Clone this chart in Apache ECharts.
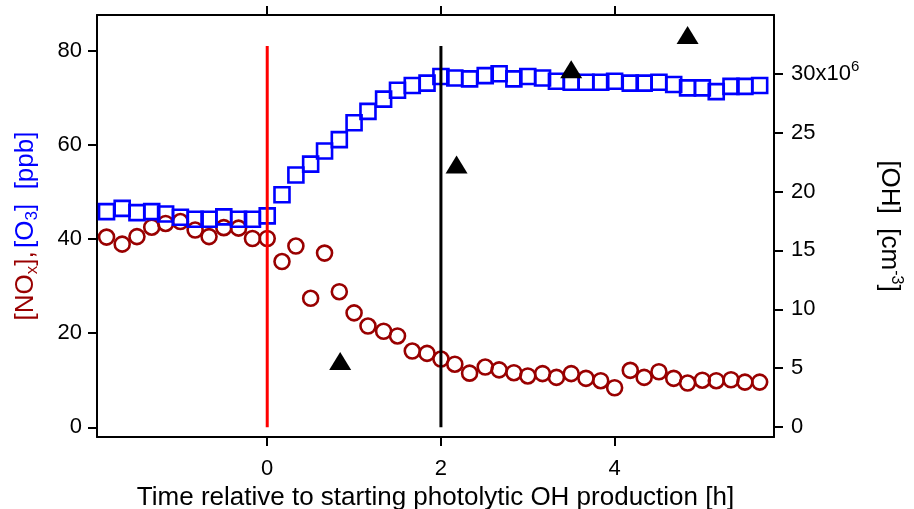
<!DOCTYPE html>
<html><head><meta charset="utf-8">
<script src="https://cdn.jsdelivr.net/npm/echarts@6/dist/echarts.min.js"></script>
<style>html,body{margin:0;padding:0;background:#fff}#c{width:914px;height:509px}</style>
</head><body><div id="c"></div>
<script>
// time [h] relative to start of photolytic OH production
const times = [-1.85,-1.67,-1.5,-1.33,-1.17,-1.0,-0.83,-0.67,-0.5,-0.33,-0.17,0,
  0.17,0.33,0.5,0.66,0.83,1.0,1.16,1.34,1.5,1.67,1.84,
  2.0,2.16,2.33,2.51,2.67,2.84,3.0,3.17,3.33,3.5,3.67,3.84,4.0,4.18,4.34,4.51,4.68,4.84,5.01,5.17,5.34,5.5,5.67];
// [NOx] ppb
const noxValues = [40.4,38.9,40.5,42.5,43.3,43.7,41.9,40.5,42.4,42.3,40.1,40.1,
  35.2,38.5,27.4,37.0,28.8,24.3,21.5,20.4,19.4,16.2,15.7,
  14.5,13.4,11.5,12.8,12.2,11.6,10.9,11.4,10.6,11.4,10.4,9.9,8.4,12.1,10.6,11.8,10.4,9.4,10.0,9.9,10.1,9.6,9.6];
// [O3] ppb
const o3Values = [45.8,46.5,45.6,45.8,45.3,44.6,44.2,44.2,44.7,44.2,44.2,44.9,
  49.4,53.6,55.9,58.7,61.1,64.7,67.1,69.7,71.6,72.6,73.1,
  74.5,74.2,74.0,74.7,75.1,74.0,74.5,74.2,73.5,73.3,73.3,73.3,73.5,73.1,73.1,73.3,72.8,72.1,72.1,71.3,72.4,72.4,72.6];
// [OH] 1e6 cm-3
const ohTimes = [0.84, 2.18, 3.5, 4.84];
const ohValues = [5.6, 22.3, 30.4, 33.3];
// vertical marker lines (time, top value on left axis)
const markerTimes = [0, 2];
const markerTop = 81;
const xTicks = [0, 2, 4];
const leftTicks = [0, 20, 40, 60, 80];
const rightTicks = [0, 5, 10, 15, 20, 25, 30];

const FONT = 'Liberation Sans, Arial, sans-serif';
const chart = echarts.init(document.getElementById('c'), null, {renderer: 'canvas'});
const axisLineStyle = {color: '#000', width: 2};
const xMin = -1.96, xMax = 5.835;

chart.setOption({
  animation: false,
  backgroundColor: '#fff',
  grid: {left: 97, right: 140, top: 15, bottom: 72, containLabel: false, outerBoundsMode: 'none'},
  xAxis: [{
    type: 'value', min: xMin, max: xMax, position: 'bottom',
    axisLine: {show: true, onZero: false, lineStyle: axisLineStyle},
    axisTick: {show: true, inside: false, length: 9, lineStyle: axisLineStyle, customValues: xTicks},
    axisLabel: {customValues: xTicks, fontSize: 22, color: '#000', margin: 21, fontFamily: FONT},
    splitLine: {show: false},
    name: 'Time relative to starting photolytic OH production [h]',
    nameLocation: 'middle', nameGap: 46,
    nameTextStyle: {fontSize: 26, color: '#000', fontFamily: FONT}
  }, {
    type: 'value', min: xMin, max: xMax, position: 'top',
    axisLine: {show: true, onZero: false, lineStyle: axisLineStyle},
    axisTick: {show: true, inside: false, length: 9, lineStyle: axisLineStyle, customValues: xTicks},
    axisLabel: {show: false},
    splitLine: {show: false}
  }],
  yAxis: [{
    type: 'value', min: -2.06, max: 87.57, position: 'left',
    axisLine: {show: true, onZero: false, lineStyle: axisLineStyle},
    axisTick: {show: true, inside: false, length: 9, lineStyle: axisLineStyle, customValues: leftTicks},
    axisLabel: {customValues: leftTicks, fontSize: 22, color: '#000', margin: 15, fontFamily: FONT},
    splitLine: {show: false},
    name: '{r|[NO}{rs|x}{r|],} {b|[O}{bs|3}{b|]  [ppb]}',
    nameLocation: 'middle', nameGap: 56, nameRotate: 90,
    nameTextStyle: {
      fontFamily: FONT,
      rich: {
        r: {fontSize: 26, color: '#990000', lineHeight: 30, fontFamily: FONT},
        rs: {fontSize: 17, color: '#990000', lineHeight: 17, verticalAlign: 'bottom', fontFamily: FONT},
        b: {fontSize: 26, color: '#0000ff', lineHeight: 30, fontFamily: FONT},
        bs: {fontSize: 17, color: '#0000ff', lineHeight: 17, verticalAlign: 'bottom', fontFamily: FONT}
      }
    }
  }, {
    type: 'value', min: -0.85, max: 35.0, position: 'right',
    axisLine: {show: true, onZero: false, lineStyle: axisLineStyle},
    axisTick: {show: true, inside: false, length: 9, lineStyle: axisLineStyle, customValues: rightTicks},
    axisLabel: {
      customValues: rightTicks, fontSize: 22, color: '#000', margin: 17, fontFamily: FONT,
      formatter: v => v === 30 ? '{a|30x10}{s|6}' : String(v),
      rich: {
        a: {fontSize: 22, color: '#000', lineHeight: 28, fontFamily: FONT},
        s: {fontSize: 15, color: '#000', lineHeight: 15, verticalAlign: 'top', fontFamily: FONT}
      }
    },
    splitLine: {show: false},
    name: '{a|[OH]  [cm}{s|-3}{a|]}',
    nameLocation: 'middle', nameGap: 100, nameRotate: -90,
    nameTextStyle: {
      fontFamily: FONT,
      rich: {
        a: {fontSize: 26, color: '#000', lineHeight: 30, fontFamily: FONT},
        s: {fontSize: 16, color: '#000', lineHeight: 16, verticalAlign: 'top', fontFamily: FONT}
      }
    }
  }],
  series: [
    {
      type: 'scatter', name: 'NOx', xAxisIndex: 0, yAxisIndex: 0,
      data: times.map((t, i) => [t, noxValues[i]]),
      symbol: 'circle', symbolSize: 15,
      itemStyle: {color: 'rgba(0,0,0,0)', borderColor: '#990000', borderWidth: 2.6, opacity: 1},
      z: 2
    },
    {
      type: 'scatter', name: 'O3', xAxisIndex: 0, yAxisIndex: 0,
      data: times.map((t, i) => [t, o3Values[i]]),
      symbol: 'rect', symbolSize: 15,
      itemStyle: {color: 'rgba(0,0,0,0)', borderColor: '#0000ff', borderWidth: 2.6, opacity: 1},
      z: 3
    },
    {
      type: 'line', name: 'start', xAxisIndex: 0, yAxisIndex: 0,
      data: [[markerTimes[0], 0], [markerTimes[0], markerTop]],
      symbol: 'none', lineStyle: {color: '#ff0000', width: 3}, z: 4
    },
    {
      type: 'line', name: 'twoh', xAxisIndex: 0, yAxisIndex: 0,
      data: [[markerTimes[1], 0], [markerTimes[1], markerTop]],
      symbol: 'none', lineStyle: {color: '#000', width: 3}, z: 4
    },
    {
      type: 'scatter', name: 'OH', xAxisIndex: 0, yAxisIndex: 1,
      data: ohTimes.map((t, i) => [t, ohValues[i]]),
      symbol: 'triangle', symbolSize: [22, 18],
      itemStyle: {color: '#000', opacity: 1}, z: 5
    }
  ]
});
</script>
</body></html>
